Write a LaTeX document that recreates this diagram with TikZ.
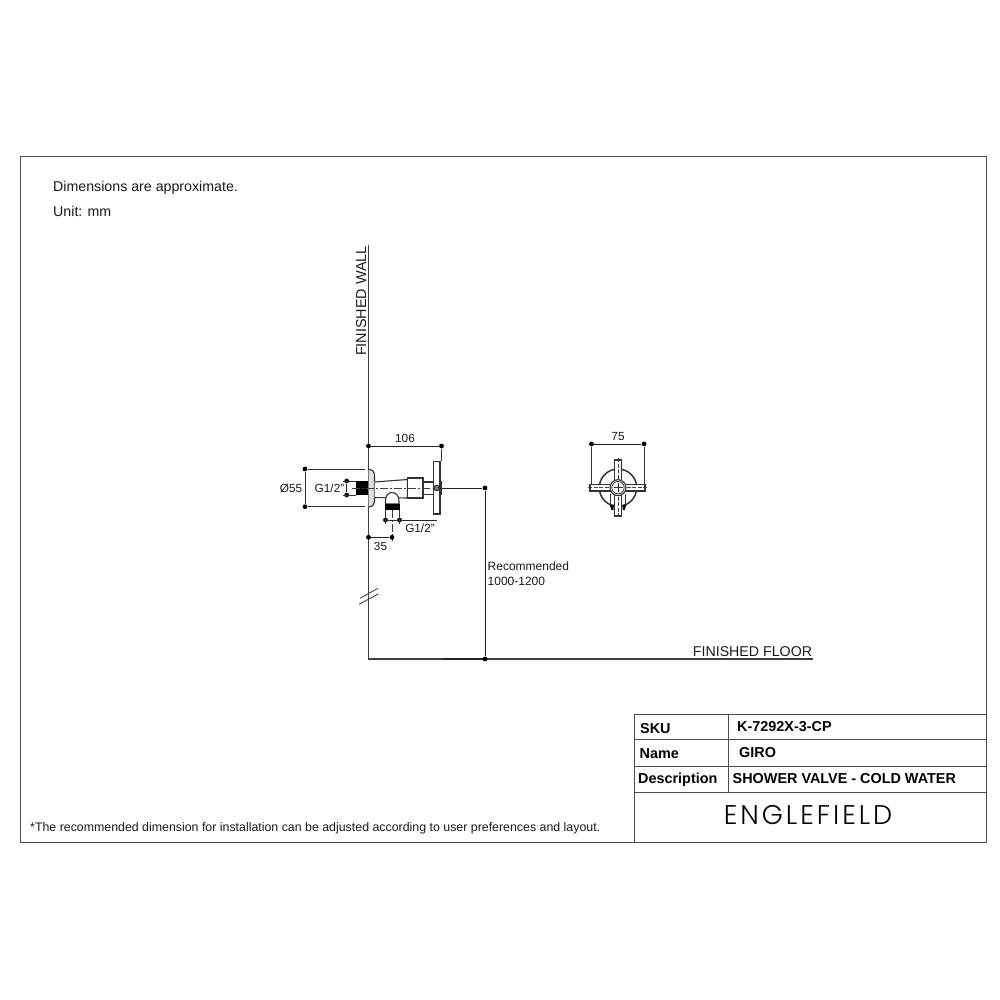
\documentclass[tikz,border=0pt]{standalone}
\usepackage{fontspec}
\setmainfont{Liberation Sans}
\newfontfamily\logofont[LetterSpace=11]{Poppins Light}
\begin{document}
\begin{tikzpicture}[x=1pt,y=-1pt,
  line/.style={draw=black!85,line width=1pt},
  frame/.style={draw=black!70,line width=1pt},
  wallline/.style={draw=black!75,line width=1.3pt},
  thin/.style={draw=black!80,line width=0.8pt},
  part/.style={draw=black!80,line width=1.1pt,fill=white},
  centre/.style={draw=black!75,line width=1pt,dash pattern=on 8pt off 2pt on 2pt off 2pt},
  ink/.style={fill=black,draw=none},
  dot/.style={circle,fill=black,inner sep=0pt,minimum size=4.8pt},
  lab/.style={inner sep=0pt,text=black!90,font=\fontsize{11.8}{13}\selectfont},
  cell/.style={inner sep=0pt,text=black,font=\fontsize{14.4}{16}\selectfont\bfseries}]
\useasboundingbox (0,0) rectangle (1000,1000);
% sheet frame
\draw[frame] (20.5,157) rectangle (986,842);
\node[lab,anchor=west,font=\fontsize{14.2}{16}\selectfont] (dims) at (53,188) {Dimensions are approximate.};
\node[lab,anchor=west,font=\fontsize{14.2}{16}\selectfont] (unit) at (53,211) {Unit: mm};
\node[lab,anchor=west,font=\fontsize{12.37}{14}\selectfont] (note) at (30,828) {*The recommended dimension for installation can be adjusted according to user preferences and layout.};
% title block
\draw[frame] (634,714) -- (986,714);
\draw[frame] (634,714) -- (634,842);
\draw[frame] (634,739.5) -- (986,739.5);
\draw[frame] (634,766) -- (986,766);
\draw[frame] (634,792) -- (986,792);
\draw[frame] (728,714) -- (728,792);
\node[cell,anchor=west] (sku) at (640,728.5) {SKU};
\node[cell,anchor=west] (skuv) at (737,727) {K-7292X-3-CP};
\node[cell,anchor=west] (name) at (639.5,753.5) {Name};
\node[cell,anchor=west] (namev) at (739,753) {GIRO};
\node[cell,anchor=west] (desc) at (638,779.5) {Description};
\node[cell,anchor=west] (descv) at (732.5,778.5) {SHOWER VALVE - COLD WATER};
\node[inner sep=0pt,text=black] (logo) at (808,815.5) {\fontsize{27}{30}\selectfont\logofont ENGLEFIELD};
% wall and floor
\coordinate (wt) at (368.5,245);
\coordinate (wb) at (368.5,659);
\coordinate (fe) at (813,659);
\draw[wallline] (wt) -- (wb) -- (fe);
\draw[draw=black!85,line width=1.5pt] (443,659) -- (485,659);
\node[lab,rotate=90,anchor=south,font=\fontsize{14.4}{16}\selectfont] (fw) at (366.5,301) {FINISHED WALL};
\node[lab,anchor=south,font=\fontsize{14.2}{16}\selectfont] (ff) at (752.5,656.5) {FINISHED FLOOR};
% break mark
\draw[thin] (360,598.3) -- (378,588.3);
\draw[thin] (359,604.3) -- (378.3,594);
% valve side view
\draw[part,fill=black!12] (368.5,469.5) .. controls (373,469.5) and (374.5,472) .. (374.5,476) -- (374.5,500) .. controls (374.5,504) and (373,507) .. (368.5,507);
\draw[part] (374.5,482) -- (407.5,479.5) -- (407.5,498) -- (374.5,497.5);
\draw[part] (423,482) rectangle (441.5,494.5);
\draw[part] (407.5,478) rectangle (423,498);
\draw[part] (385.5,504) -- (385.5,501) .. controls (385.5,496) and (388,492.5) .. (392,492.5) .. controls (396,492.5) and (399,496) .. (399,501) -- (399,504) -- cycle;
\fill[ink] (385,504) rectangle (399.5,509.5);
\fill[ink] (356,481) rectangle (368,494.7);
\draw[part] (433.5,461.5) rectangle (440,514);
\draw[centre] (352,488) -- (432,488);
\draw[part,fill=black!50] (436.7,488) circle (2.7);
\draw[centre] (392,510) -- (392,541);
% 106
\node[dot] (d1a) at (368.5,446) {};
\node[dot] (d1b) at (441.5,446) {};
\draw[line] (d1a) -- (d1b);
\draw[thin] (d1b) -- (441.5,461);
\node[lab] (l106) at (405,438.5) {106};
% O55
\node[dot] (d2a) at (305,469) {};
\node[dot] (d2b) at (305,506.7) {};
\draw[line] (d2a) -- (d2b);
\coordinate (e2a) at (365,469);
\coordinate (e2b) at (365,506.7);
\draw[thin] (d2a) -- (e2a);
\draw[thin] (d2b) -- (e2b);
\node[lab] (l55) at (291,488) {Ø55};
% G1/2 left
\node[dot] (d3a) at (346.7,481) {};
\node[dot] (d3b) at (346.7,495) {};
\draw[line] (d3a) -- (d3b);
\coordinate (e3a) at (356,481);
\coordinate (e3b) at (356,495);
\draw[thin] (343,481) -- (e3a);
\draw[thin] (343,495) -- (e3b);
\node[lab] (lg1) at (329.5,488) {G1/2"};
% G1/2 lower
\node[dot] (d4a) at (385.5,520) {};
\node[dot] (d4b) at (399.5,520) {};
\coordinate (e4) at (437,520);
\draw[line] (d4a) -- (e4);
\draw[thin] (385.5,510) -- (385.5,524);
\draw[thin] (399.5,510) -- (399.5,524);
\node[lab] (lg2) at (420,528.5) {G1/2"};
% 35
\node[dot] (d5a) at (368.5,537.3) {};
\node[dot] (d5b) at (392,537.3) {};
\draw[line] (d5a) -- (d5b);
\node[lab] (l35) at (380.5,546) {35};
% recommended
\node[dot] (d6a) at (485,488) {};
\node[dot] (d6b) at (485,659) {};
\draw[line] (441,488) -- (d6a);
\draw[line] (d6a) -- (d6b);
\node[lab,anchor=west,font=\fontsize{12}{14}\selectfont] (rec) at (487.5,566.5) {Recommended};
\node[lab,anchor=west,font=\fontsize{12}{14}\selectfont] (rng) at (487.5,581) {1000-1200};
% front view
\node[dot] (d7a) at (591.5,444) {};
\node[dot] (d7b) at (644,444) {};
\draw[line] (d7a) -- (d7b);
\draw[thin] (d7a) -- (591.5,485);
\draw[thin] (d7b) -- (644,485);
\node[lab] (l75) at (618,436.5) {75};
\draw[part,line width=1.5pt] (618,487.7) circle (18.7);
\draw[thin] (610,494) -- (610,506);
\draw[thin] (625.5,494) -- (625.5,506);
\fill[ink] (609.5,504.5) -- (613.5,504.5) -- (613.5,510) -- (611.5,510) -- cycle;
\fill[ink] (622.5,504.5) -- (626.5,504.5) -- (624.5,510) -- (622.5,510) -- cycle;
\draw[part] (614.5,460) rectangle (621.5,516);
\draw[part] (590,484.5) rectangle (645,491);
\draw[centre,dash pattern=on 4pt off 1.5pt] (618,458) -- (618,518);
\draw[centre,dash pattern=on 4pt off 1.5pt] (588,487.7) -- (647,487.7);
\draw[part] (618,487.7) circle (8);
\draw[thin] (618,487.7) circle (6.2);
\draw[thin] (613.5,487.7) -- (622.5,487.7);
\draw[thin] (618,483.2) -- (618,492.2);
\end{tikzpicture}
\end{document}
